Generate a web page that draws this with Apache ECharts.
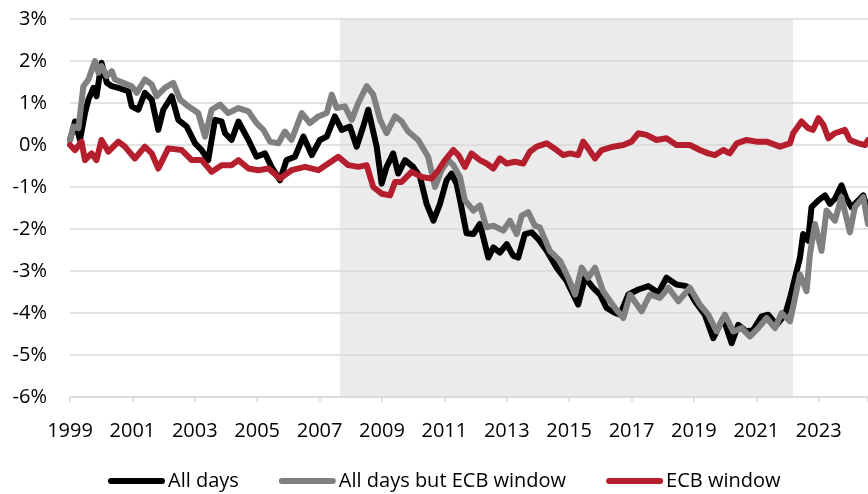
<!DOCTYPE html>
<html>
<head>
<meta charset="utf-8">
<script src="https://cdn.jsdelivr.net/npm/echarts@6/dist/echarts.min.js"></script>
<style>
  html, body { margin: 0; padding: 0; background: #fff; }
  #chart { width: 868px; height: 494px; }
</style>
</head>
<body>
<div id="chart"></div>
<script>
// ---- data (decimal year, % value) ----
const yearTicks = [1999, 2001, 2003, 2005, 2007, 2009, 2011, 2013, 2015, 2017, 2019, 2021, 2023];
const shadeRange = [2007.65, 2022.18];   // grey window

const allDays = [
  [1999.00, 0.12], [1999.16, 0.56], [1999.32, 0.12], [1999.48, 0.76], [1999.59, 1.08], [1999.75, 1.36],
  [1999.85, 1.16], [2000.01, 1.96], [2000.18, 1.48], [2000.34, 1.40], [2000.55, 1.36], [2000.87, 1.28],
  [2000.98, 0.92], [2001.19, 0.84], [2001.40, 1.24], [2001.62, 1.08], [2001.83, 0.36], [2001.99, 0.84],
  [2002.26, 1.16], [2002.47, 0.60], [2002.74, 0.44], [2003.01, 0.04], [2003.22, -0.12], [2003.43, -0.36],
  [2003.65, 0.60], [2003.86, 0.56], [2003.97, 0.28], [2004.18, 0.12], [2004.40, 0.56], [2004.72, 0.12],
  [2004.98, -0.28], [2005.25, -0.20], [2005.46, -0.52], [2005.73, -0.84], [2005.94, -0.36], [2006.21, -0.28],
  [2006.48, 0.20], [2006.75, -0.24], [2007.01, 0.12], [2007.23, 0.20], [2007.49, 0.68], [2007.71, 0.36],
  [2007.97, 0.44], [2008.19, -0.04], [2008.40, 0.44], [2008.56, 0.84], [2008.83, -0.04], [2008.99, -0.92],
  [2009.15, -0.52], [2009.36, -0.20], [2009.52, -0.68], [2009.74, -0.36], [2010.00, -0.52], [2010.22, -0.76],
  [2010.43, -1.40], [2010.65, -1.80], [2010.86, -1.40], [2011.07, -0.84], [2011.23, -0.68], [2011.39, -0.92],
  [2011.50, -1.30], [2011.71, -2.10], [2011.93, -2.12], [2012.14, -1.88], [2012.41, -2.68], [2012.57, -2.44],
  [2012.78, -2.56], [2013.00, -2.36], [2013.21, -2.64], [2013.37, -2.68], [2013.58, -2.12], [2013.80, -2.08],
  [2014.01, -2.24], [2014.28, -2.52], [2014.60, -2.92], [2014.92, -3.24], [2015.13, -3.56], [2015.29, -3.80],
  [2015.51, -3.16], [2015.77, -3.40], [2015.99, -3.56], [2016.20, -3.88], [2016.47, -4.00], [2016.63, -4.04],
  [2016.90, -3.56], [2017.22, -3.44], [2017.54, -3.36], [2017.86, -3.52], [2018.12, -3.16], [2018.44, -3.32],
  [2018.76, -3.36], [2019.03, -3.72], [2019.35, -4.04], [2019.62, -4.60], [2019.94, -4.12], [2020.21, -4.72],
  [2020.42, -4.28], [2020.69, -4.44], [2020.90, -4.40], [2021.17, -4.08], [2021.38, -4.04], [2021.65, -4.28],
  [2021.92, -4.04], [2022.08, -3.64], [2022.24, -3.16], [2022.40, -2.68], [2022.50, -2.12], [2022.66, -2.28],
  [2022.77, -1.48], [2022.99, -1.32], [2023.20, -1.20], [2023.36, -1.40], [2023.52, -1.28], [2023.73, -0.96],
  [2023.89, -1.28], [2024.05, -1.48], [2024.27, -1.32], [2024.43, -1.20], [2024.58, -1.56]
];

const allButEcb = [
  [1999.00, 0.12], [1999.11, 0.44], [1999.27, 0.40], [1999.43, 1.40], [1999.59, 1.56], [1999.80, 2.00],
  [1999.91, 1.72], [2000.01, 1.88], [2000.18, 1.64], [2000.34, 1.76], [2000.44, 1.56], [2000.71, 1.48],
  [2000.98, 1.40], [2001.14, 1.24], [2001.40, 1.56], [2001.62, 1.44], [2001.78, 1.16], [2002.04, 1.36],
  [2002.31, 1.48], [2002.53, 1.08], [2002.79, 0.92], [2003.11, 0.76], [2003.33, 0.20], [2003.54, 0.84],
  [2003.81, 0.96], [2004.07, 0.76], [2004.40, 0.88], [2004.72, 0.80], [2004.98, 0.52], [2005.20, 0.36],
  [2005.41, 0.08], [2005.68, 0.04], [2005.89, 0.32], [2006.10, 0.12], [2006.43, 0.76], [2006.69, 0.52],
  [2006.96, 0.68], [2007.23, 0.76], [2007.39, 1.20], [2007.55, 0.88], [2007.81, 0.92], [2008.03, 0.60],
  [2008.24, 1.00], [2008.51, 1.40], [2008.72, 1.20], [2008.94, 0.60], [2009.15, 0.28], [2009.42, 0.68],
  [2009.63, 0.56], [2009.84, 0.32], [2010.16, 0.12], [2010.48, -0.28], [2010.70, -1.00], [2010.91, -0.60],
  [2011.13, -0.36], [2011.29, -0.48], [2011.50, -0.76], [2011.66, -1.32], [2011.93, -1.56], [2012.14, -1.44],
  [2012.35, -1.96], [2012.57, -1.92], [2012.89, -2.04], [2013.10, -1.80], [2013.32, -2.12], [2013.48, -1.68],
  [2013.69, -1.60], [2013.90, -1.92], [2014.06, -1.96], [2014.38, -2.52], [2014.71, -2.76], [2014.97, -3.16],
  [2015.19, -3.56], [2015.40, -2.92], [2015.61, -3.16], [2015.83, -2.92], [2016.09, -3.48], [2016.47, -3.88],
  [2016.74, -4.12], [2016.95, -3.56], [2017.32, -3.96], [2017.59, -3.56], [2017.91, -3.64], [2018.18, -3.40],
  [2018.50, -3.72], [2018.87, -3.40], [2019.19, -3.80], [2019.46, -4.04], [2019.73, -4.44], [2019.99, -4.04],
  [2020.26, -4.44], [2020.53, -4.36], [2020.79, -4.56], [2021.06, -4.36], [2021.33, -4.12], [2021.60, -4.36],
  [2021.81, -4.00], [2022.08, -4.20], [2022.24, -3.64], [2022.40, -3.08], [2022.61, -3.48], [2022.72, -2.60],
  [2022.88, -1.88], [2023.09, -2.52], [2023.25, -1.56], [2023.52, -1.80], [2023.73, -1.24], [2024.00, -2.08],
  [2024.16, -1.48], [2024.43, -1.24], [2024.58, -1.88]
];

const ecbWindow = [
  [1999.00, 0.00], [1999.16, -0.12], [1999.37, 0.08], [1999.48, -0.36], [1999.69, -0.20], [1999.85, -0.36],
  [2000.01, 0.12], [2000.23, -0.16], [2000.55, 0.08], [2000.76, -0.04], [2001.08, -0.32], [2001.40, -0.04],
  [2001.62, -0.20], [2001.83, -0.56], [2002.15, -0.08], [2002.58, -0.12], [2002.90, -0.36], [2003.22, -0.36],
  [2003.54, -0.64], [2003.86, -0.48], [2004.18, -0.48], [2004.40, -0.36], [2004.72, -0.56], [2005.04, -0.60],
  [2005.36, -0.56], [2005.73, -0.80], [2006.10, -0.60], [2006.53, -0.52], [2006.96, -0.60], [2007.28, -0.44],
  [2007.60, -0.28], [2007.92, -0.48], [2008.24, -0.52], [2008.51, -0.48], [2008.72, -1.00], [2008.99, -1.16],
  [2009.26, -1.20], [2009.42, -0.88], [2009.63, -0.88], [2009.95, -0.64], [2010.27, -0.76], [2010.59, -0.80],
  [2010.81, -0.60], [2011.02, -0.36], [2011.29, -0.12], [2011.45, -0.24], [2011.66, -0.52], [2011.87, -0.20],
  [2012.14, -0.36], [2012.35, -0.44], [2012.57, -0.56], [2012.78, -0.32], [2013.00, -0.44], [2013.26, -0.40],
  [2013.53, -0.44], [2013.74, -0.16], [2013.96, -0.04], [2014.28, 0.04], [2014.60, -0.12], [2014.81, -0.24],
  [2015.03, -0.20], [2015.29, -0.24], [2015.45, 0.08], [2015.61, -0.08], [2015.83, -0.32], [2016.04, -0.12],
  [2016.41, -0.04], [2016.74, 0.00], [2017.00, 0.08], [2017.22, 0.28], [2017.48, 0.24], [2017.80, 0.12],
  [2018.12, 0.16], [2018.44, 0.00], [2018.87, 0.00], [2019.19, -0.12], [2019.46, -0.20], [2019.67, -0.24],
  [2019.94, -0.12], [2020.15, -0.20], [2020.37, 0.04], [2020.69, 0.12], [2021.01, 0.08], [2021.33, 0.08],
  [2021.76, -0.04], [2022.08, 0.04], [2022.18, 0.28], [2022.45, 0.56], [2022.66, 0.40], [2022.82, 0.36],
  [2022.99, 0.64], [2023.15, 0.48], [2023.31, 0.16], [2023.52, 0.28], [2023.84, 0.36], [2024.00, 0.12],
  [2024.27, 0.04], [2024.49, 0.00], [2024.58, 0.12]
];

// ---- chart ----
const FONT = '"Open Sans", "Noto Sans", sans-serif';
const GRID_COLOR = '#d9d9d9';

const el = document.getElementById('chart');
const chart = echarts.init(el, null, { renderer: 'canvas' });

// line series helper
function lineSeries(name, data, color, z) {
  return {
    name: name,
    type: 'line',
    data: data,
    z: z,
    showSymbol: false,
    symbol: 'none',
    smooth: false,
    lineStyle: { color: color, width: 6, cap: 'round', join: 'round' },
    itemStyle: { color: color }
  };
}

const capsule = 'path://M3,0 L54,0 A3,3 0 0 1 54,6 L3,6 A3,3 0 0 1 3,0 Z';

chart.setOption({
  animation: false,
  textStyle: { fontFamily: FONT },
  grid: { left: 70, right: 0, top: 19, bottom: 97 },
  legend: {
    left: 108,
    top: 471,
    padding: 0,
    itemWidth: 57,
    itemHeight: 6,
    itemGap: 40,
    icon: capsule,
    textStyle: { fontFamily: FONT, fontSize: 20, color: '#000', padding: [0, 0, 0, -2] },
    data: ['All days', 'All days but ECB window', 'ECB window']
  },
  xAxis: [
    {
      type: 'value',
      min: yearTicks[0],
      max: 2024.58,
      interval: 2,
      position: 'bottom',
      axisLine: { show: false },
      axisTick: { show: false },
      splitLine: { show: false },
      axisLabel: {
        color: '#000',
        fontSize: 20,
        fontFamily: FONT,
        margin: 24,
        showMaxLabel: false,
        formatter: v => (yearTicks.indexOf(v) >= 0 ? String(v) : '')
      }
    },
    {
      // axis line crossing at 0% with tick marks
      type: 'value',
      min: yearTicks[0],
      max: 2024.58,
      interval: 2,
      position: 'bottom',
      z: 1.8,
      axisLine: { show: true, onZero: true, lineStyle: { color: GRID_COLOR, width: 1.5 } },
      axisTick: { show: true, length: 5, lineStyle: { color: GRID_COLOR, width: 1.5 } },
      axisLabel: { show: false },
      splitLine: { show: false }
    }
  ],
  yAxis: {
    type: 'value',
    min: -6,
    max: 3,
    interval: 1,
    z: 1.8,
    axisLine: { show: false },
    axisTick: { show: false },
    axisLabel: { color: '#000', fontSize: 20, fontFamily: FONT, margin: 23, formatter: '{value}%' },
    splitLine: { lineStyle: { color: GRID_COLOR, width: 1.5 } }
  },
  series: [
    {
      // shaded window
      type: 'line',
      data: [],
      z: 1,
      silent: true,
      markArea: {
        silent: true,
        z: 1,
        itemStyle: { color: 'rgba(0,0,0,0.078)' },
        data: [[{ xAxis: shadeRange[0] }, { xAxis: shadeRange[1] }]]
      }
    },
    lineSeries('All days', allDays, '#000000', 2),
    lineSeries('All days but ECB window', allButEcb, '#808080', 3),
    lineSeries('ECB window', ecbWindow, '#b41e2d', 4)
  ]
});

window.addEventListener('resize', () => { try { chart.resize(); } catch (e) {} }, { passive: true });
</script>
</body>
</html>
